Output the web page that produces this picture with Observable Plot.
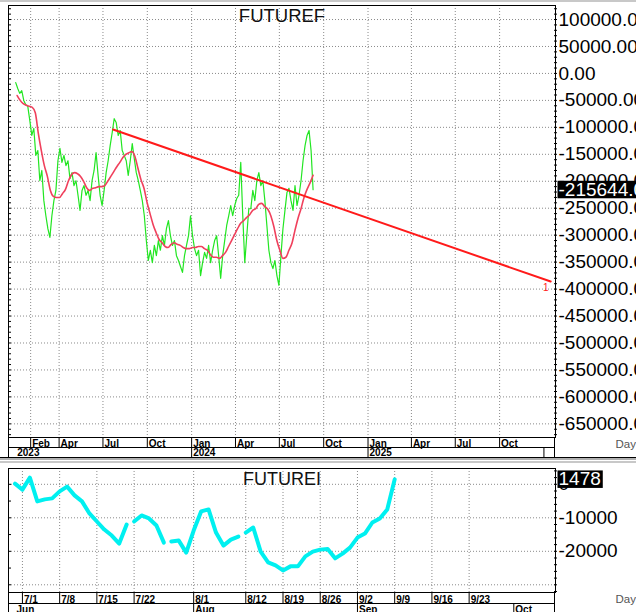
<!DOCTYPE html>
<html><head><meta charset="utf-8">
<script src="https://cdn.jsdelivr.net/npm/d3@7"></script>
<script src="https://cdn.jsdelivr.net/npm/@observablehq/plot@0.6"></script>
<style>
html,body{margin:0;padding:0;background:#fff;overflow:hidden;}
#chart{width:636px;height:612px;position:relative;}
svg{display:block}
</style></head><body><div id="chart"></div>
<script>
// ---------- FUTUREF (top panel) ----------
const futurefTitle = "FUTUREF";
const futurefStart = "2023-01-01";
const futurefEnd = "2024-09-09";
const futurefValues = [
 -17000,-28000,-37000,-32000,-50000,-58000,-61000,-87000,-115000,-102000,
 -152000,-143000,-199000,-180000,-236000,-264000,-288000,-304000,-264000,-236000,
 -217000,-162000,-139000,-165000,-152000,-171000,-162000,-195000,-184000,-208000,
 -199000,-226000,-254000,-217000,-208000,-226000,-217000,-236000,-199000,-180000,
 -147000,-189000,-226000,-245000,-217000,-184000,-162000,-134000,-110000,-84000,
 -91000,-115000,-106000,-143000,-152000,-162000,-189000,-162000,-130000,-158000,
 -184000,-199000,-217000,-236000,-264000,-310000,-347000,-328000,-351000,-319000,
 -338000,-310000,-328000,-301000,-319000,-288000,-273000,-301000,-319000,-310000,
 -338000,-347000,-358000,-369000,-338000,-319000,-301000,-264000,-301000,-325000,
 -338000,-328000,-375000,-351000,-332000,-343000,-319000,-351000,-328000,-310000,
 -301000,-338000,-380000,-338000,-310000,-282000,-264000,-245000,-264000,-245000,
 -232000,-226000,-165000,-264000,-351000,-301000,-251000,-251000,-217000,-236000,
 -199000,-184000,-208000,-199000,-236000,-282000,-328000,-351000,-362000,-347000,
 -375000,-393000,-338000,-288000,-254000,-221000,-213000,-236000,-254000,-208000,
 -245000,-226000,-199000,-162000,-134000,-115000,-106000,-143000,-215644
];
const futurefMaStart = "2023-01-04";
const futurefMaEnd = "2024-09-09";
const futurefMaValues = [
 -41000,-50000,-56000,-59000,-61000,-63000,-73000,-111000,-143000,-171000,
 -191000,-217000,-228000,-230000,-230000,-223000,-215000,-199000,-188000,-184000,
 -186000,-191000,-200000,-212000,-217000,-213000,-212000,-210000,-210000,-208000,
 -200000,-191000,-182000,-173000,-165000,-156000,-150000,-147000,-145000,-154000,
 -176000,-197000,-213000,-239000,-260000,-280000,-295000,-308000,-314000,-321000,
 -323000,-317000,-314000,-317000,-319000,-323000,-325000,-325000,-323000,-323000,
 -321000,-321000,-325000,-328000,-336000,-341000,-341000,-343000,-338000,-332000,
 -321000,-310000,-299000,-288000,-278000,-273000,-267000,-262000,-254000,-251000,
 -243000,-241000,-247000,-252000,-264000,-284000,-310000,-328000,-343000,-341000,
 -328000,-315000,-291000,-269000,-251000,-230000,-215000,-203000,-189000
];
const futurefTrendDates = ["2023-07-22", "2026-01-15"];
const futurefTrendValues = [-104000, -386000];
const futurefTrendLabel = "1";
const futurefLast = -215644;
const futurefYTicks = [100000,50000,0,-50000,-100000,-150000,-200000,-250000,-300000,-350000,-400000,-450000,-500000,-550000,-600000,-650000];
const futurefMonthTicks = ["2023-02-01","2023-04-01","2023-07-01","2023-10-01","2024-01-01","2024-04-01","2024-07-01","2024-10-01","2025-01-01","2025-04-01","2025-07-01","2025-10-01"];
const futurefMonthLabels = ["Feb","Apr","Jul","Oct","Jan","Apr","Jul","Oct","Jan","Apr","Jul","Oct"];
const futurefYearTicks = ["2023-01-01","2024-01-01","2025-01-01","2026-01-01"];
const futurefYearLabels = ["2023","2024","2025",""];
const futurefXDomain = ["2022-12-17","2026-01-25"];
const futurefYDomain = [-675300, 126000];

// ---------- FUTUREI (bottom panel) ----------
const futureiTitle = "FUTUREI";
const futureiDates = [
 "2024-06-28","2024-07-01","2024-07-02","2024-07-03","2024-07-04","2024-07-05",
 "2024-07-08","2024-07-09","2024-07-10","2024-07-11","2024-07-12",
 "2024-07-15","2024-07-16","2024-07-17","2024-07-18","2024-07-19",
 "2024-07-22","2024-07-23","2024-07-24","2024-07-25","2024-07-26",
 "2024-07-29","2024-07-30","2024-07-31","2024-08-01","2024-08-02",
 "2024-08-05","2024-08-06","2024-08-07","2024-08-08","2024-08-09",
 "2024-08-12","2024-08-13","2024-08-14","2024-08-15","2024-08-16",
 "2024-08-19","2024-08-20","2024-08-21","2024-08-22","2024-08-23",
 "2024-08-26","2024-08-27","2024-08-28","2024-08-29","2024-08-30",
 "2024-09-02","2024-09-03","2024-09-04","2024-09-05","2024-09-06","2024-09-09"
];
const futureiValues = [
 200,-1600,2000,-5100,-4500,-4200,
 -2100,-700,-3300,-5100,-8700,
 -11100,-13500,-15300,-17700,-12000,
 -11100,-9300,-10200,-12300,-17400,
 -17100,-16800,-20400,-13800,-8100,
 -7500,-14400,-18300,-16500,-15600,
 -14400,-12900,-20100,-23300,-24200,
 -25700,-24500,-24500,-21500,-20100,
 -19500,-19300,-22100,-20700,-18900,
 -15900,-14700,-11400,-10200,-7500,1478
];
const futureiBreaks = ["2024-07-22","2024-07-29","2024-08-12"];
const futureiLast = 1478;
const futureiYTicks = [0,-10000,-20000];
const futureiGridY = [0,-10000,-20000,-30000];
const futureiDayTicks = ["2024-07-01","2024-07-08","2024-07-15","2024-07-22","2024-08-01","2024-08-12","2024-08-19","2024-08-26","2024-09-02","2024-09-09","2024-09-16","2024-09-23"];
const futureiDayLabels = ["7/1","7/8","7/15","7/22","8/1","8/12","8/19","8/26","9/2","9/9","9/16","9/23"];
const futureiMonthTicks = ["2024-06-28","2024-08-01","2024-09-02","2024-10-01"];
const futureiMonthLabels = ["Jun","Aug","Sep","Oct"];
const futureiXDomain = [-0.87, 72.6];
const futureiYDomain = [-32300, 4720];

// ---------- styles ----------
const FONT = "'Liberation Sans', Arial, sans-serif";
const GREEN = "#22e622", MA_RED = "#f0405c", TREND_RED = "#ff1a1a", CYAN = "#00f0f0";
const GRID = {stroke: "#8a8a8a", strokeDasharray: "1,2", strokeWidth: 1};
const AXFONT = {fontSize: 10, fontWeight: "bold", fill: "#000"};
const TICKONLY = {fill: "none", label: null};
const YFONT = 19;

function spread(start, end, values) {
  const t0 = +new Date(start), t1 = +new Date(end), n = values.length;
  return values.map((v, i) => ({date: new Date(t0 + (t1 - t0) * i / (n - 1)), value: v}));
}
const fmtF = d => d.toFixed(2);
const fmtI = d => String(d);

// ---------- top chart ----------
const fData = spread(futurefStart, futurefEnd, futurefValues);
const maData = spread(futurefMaStart, futurefMaEnd, futurefMaValues);
const trend = futurefTrendDates.map((d, i) => ({date: new Date(d), value: futurefTrendValues[i]}));
const monthDates = futurefMonthTicks.map(d => new Date(d));
const monthLab = new Map(monthDates.map((d, i) => [+d, futurefMonthLabels[i]]));
const yearDates = futurefYearTicks.map(d => new Date(d));
const yearLab = new Map(yearDates.map((d, i) => [+d, futurefYearLabels[i]]));

const topChart = Plot.plot({
  width: 636, height: 460,
  marginLeft: 8, marginRight: 81, marginTop: 5, marginBottom: 23,
  style: {fontFamily: FONT, background: "#fff", overflow: "hidden"},
  x: {type: "utc", domain: futurefXDomain.map(d => new Date(d))},
  y: {domain: futurefYDomain},
  marks: [
    Plot.ruleY(futurefYTicks, GRID),
    Plot.ruleX(monthDates, GRID),
    Plot.axisY({anchor: "left", ticks: d3.range(-670000, 126000, 10000), tickSize: 3, dx: 3, ...TICKONLY}),
    Plot.axisY({anchor: "right", ticks: d3.range(-670000, 126000, 10000), tickSize: 3, dx: -2, ...TICKONLY}),
    Plot.axisY({anchor: "right", ticks: futurefYTicks, tickSize: 0, tickPadding: 3, tickFormat: fmtF, fontSize: YFONT, fill: "#000", label: null}),
    Plot.axisX({anchor: "bottom", ticks: monthDates, tickSize: 10, stroke: "#000", ...TICKONLY}),
    Plot.axisX({anchor: "bottom", ticks: monthDates, tickSize: 0, tickPadding: 0, dy: 2, dx: 1.5, textAnchor: "start", tickFormat: d => monthLab.get(+d), ...AXFONT, label: null}),
    Plot.axisX({anchor: "bottom", ticks: yearDates.slice(1), tickSize: 10, dy: 10, stroke: "#000", ...TICKONLY}),
    Plot.axisX({anchor: "bottom", ticks: yearDates, tickSize: 0, tickPadding: 0, dy: 11.5, dx: 1.5, textAnchor: "start", tickFormat: d => yearLab.get(+d), ...AXFONT, label: null}),
    Plot.line(fData, {x: "date", y: "value", stroke: GREEN, strokeWidth: 1.2}),
    Plot.line(maData, {x: "date", y: "value", stroke: MA_RED, strokeWidth: 1.6, curve: "monotone-x"}),
    Plot.line(trend, {x: "date", y: "value", stroke: TREND_RED, strokeWidth: 2}),
    Plot.text(trend.slice(-1), {x: "date", y: "value", text: () => futurefTrendLabel, dx: -5, dy: 6, fill: TREND_RED, fontSize: 10}),
    Plot.frame({stroke: "#000"}),
    Plot.text([futurefTitle], {frameAnchor: "top", dy: 3, lineAnchor: "top", fontSize: 18.5, fill: "#111"}),
    Plot.text([futurefLast], {y: d => d, frameAnchor: "right", dx: 3, textAnchor: "start", fill: "#fff", fontSize: YFONT, text: fmtF}),
    Plot.text(["Day"], {frameAnchor: "bottom-right", dx: 60, dy: 10.5, textAnchor: "start", fontSize: 11.5, fill: "#555"})
  ]
});

// ---------- bottom chart ----------
const cal = d3.utcDays(new Date("2024-06-28"), new Date("2024-10-31")).filter(d => d.getUTCDay() % 6 !== 0);
const calIdx = new Map(cal.map((d, i) => [d.toISOString().slice(0, 10), i]));
const iData = futureiDates.map((d, i) => ({i: calIdx.get(d), value: futureiValues[i], seg: futureiBreaks.filter(b => d >= b).length}));
const dayIdx = futureiDayTicks.map(d => calIdx.get(d));
const dayLab = new Map(dayIdx.map((d, i) => [d, futureiDayLabels[i]]));
const monIdx = futureiMonthTicks.map(d => calIdx.get(d));
const monLab = new Map(monIdx.map((d, i) => [d, futureiMonthLabels[i]]));

const bottomChart = Plot.plot({
  width: 636, height: 152,
  marginLeft: 8, marginRight: 81, marginTop: 8, marginBottom: 20,
  style: {fontFamily: FONT, background: "#fff", overflow: "hidden"},
  x: {type: "linear", domain: futureiXDomain},
  y: {domain: futureiYDomain},
  marks: [
    Plot.ruleY(futureiGridY, GRID),
    Plot.ruleX(dayIdx, GRID),
    Plot.axisY({anchor: "left", ticks: d3.range(-30000, 4721, 5000), tickSize: 3, dx: 3, ...TICKONLY}),
    Plot.axisY({anchor: "right", ticks: d3.range(-32000, 4721, 2000), tickSize: 3, dx: -2, ...TICKONLY}),
    Plot.axisY({anchor: "right", ticks: futureiYTicks, tickSize: 0, tickPadding: 3, tickFormat: fmtI, fontSize: YFONT, fill: "#000", label: null}),
    Plot.axisX({anchor: "bottom", ticks: dayIdx, tickSize: 11, stroke: "#000", ...TICKONLY}),
    Plot.axisX({anchor: "bottom", ticks: dayIdx, tickSize: 0, tickPadding: 0, dy: 3, dx: 1.5, textAnchor: "start", tickFormat: d => dayLab.get(d), ...AXFONT, label: null}),
    Plot.axisX({anchor: "bottom", ticks: monIdx.slice(1), tickSize: 9, dy: 11, stroke: "#000", ...TICKONLY}),
    Plot.axisX({anchor: "bottom", ticks: monIdx, tickSize: 0, tickPadding: 0, dy: 13, dx: 1.5, textAnchor: "start", tickFormat: d => monLab.get(d), ...AXFONT, label: null}),
    Plot.line(iData, {x: "i", y: "value", z: "seg", stroke: CYAN, strokeWidth: 4, strokeLinejoin: "round", strokeLinecap: "round"}),
    Plot.frame({stroke: "#000"}),
    Plot.text([futureiTitle], {frameAnchor: "top", dy: 4, lineAnchor: "top", fontSize: 18, fill: "#111"}),
    Plot.text([futureiLast], {y: d => d, frameAnchor: "right", dx: 3, textAnchor: "start", fill: "#fff", fontSize: YFONT, text: fmtI}),
    Plot.text(["Day"], {frameAnchor: "bottom-right", dx: 60, dy: 10.5, textAnchor: "start", fontSize: 11.5, fill: "#555"})
  ]
});

const host = document.getElementById("chart");
host.appendChild(topChart);
host.appendChild(bottomChart);

// ---------- decoration: axis band lines, highlight boxes ----------
const NS = "http://www.w3.org/2000/svg";
function addLine(svg, x1, y1, x2, y2, stroke = "#000", w = 1) {
  const l = document.createElementNS(NS, "line");
  l.setAttribute("x1", x1); l.setAttribute("y1", y1); l.setAttribute("x2", x2); l.setAttribute("y2", y2);
  l.setAttribute("stroke", stroke); l.setAttribute("stroke-width", w);
  svg.appendChild(l);
}
function highlight(svg, label) {
  Array.from(svg.querySelectorAll("text"))
    .filter(t => t.textContent === label && t.closest("g") && t.closest("g").getAttribute("fill") === "#fff")
    .forEach(t => {
      const b = t.getBBox();
      const r = document.createElementNS(NS, "rect");
      r.setAttribute("x", b.x - 1); r.setAttribute("y", b.y + 2);
      r.setAttribute("width", b.width + 3); r.setAttribute("height", b.height - 3.5);
      r.setAttribute("fill", "#000");
      if (t.getAttribute("transform")) r.setAttribute("transform", t.getAttribute("transform"));
      t.parentNode.insertBefore(r, t);
    });
}
// top band
addLine(topChart, 8, 447.5, 555, 447.5);
addLine(topChart, 0, 457.5, 636, 457.5);
addLine(topChart, 8.5, 437, 8.5, 458);
addLine(topChart, 554.5, 437, 554.5, 458);
addLine(topChart, 0, 1, 636, 1, "#c8c8c8", 2);
addLine(topChart, 0, 459, 636, 459, "#b0b0b0", 2);
highlight(topChart, fmtF(futurefLast));
// bottom band
addLine(bottomChart, 8, 143.5, 555, 143.5);
addLine(bottomChart, 8.5, 132, 8.5, 152);
addLine(bottomChart, 554.5, 132, 554.5, 152);
addLine(bottomChart, 0, 2, 636, 2, "#c8c8c8", 2);
highlight(bottomChart, fmtI(futureiLast));
</script></body></html>
